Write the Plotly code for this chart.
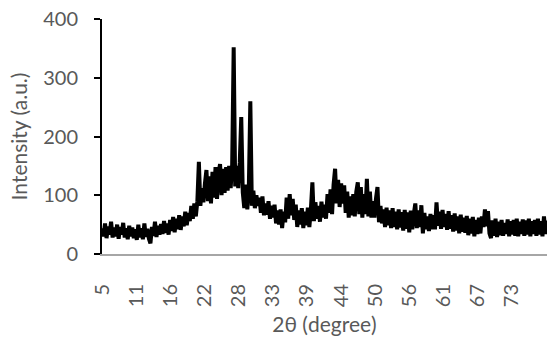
import plotly.graph_objects as go

# 2θ scan: 5.00° to 78.50° in 0.25° steps
scan_start = 5.0
scan_step = 0.25

intensity = [
    # 5.00 - 9.75
    44, 30, 52, 27, 47, 33, 55, 28, 45, 30, 50, 26, 46, 33, 53, 28, 44, 25, 48, 30,
    # 10.00 - 14.75
    45, 27, 42, 24, 50, 28, 44, 25, 52, 29, 43, 26, 18, 46, 31, 55, 29, 48, 33, 51,
    # 15.00 - 19.75
    34, 56, 36, 52, 33, 58, 39, 63, 37, 60, 42, 66, 41, 64, 47, 72, 49, 70, 56, 82,
    # 20.00 - 24.75
    60, 86, 64, 90, 157, 82, 112, 88, 120, 143, 90, 132, 86, 140, 96, 148, 94, 138, 153, 100,
    # 25.00 - 29.75
    145, 104, 148, 108, 150, 112, 152, 352, 115, 150, 112, 155, 233, 105, 78, 118, 76, 112, 260, 82,
    # 30.00 - 34.75
    108, 78, 100, 82, 96, 70, 98, 66, 86, 67, 90, 60, 82, 62, 84, 52, 74, 50, 76, 44,
    # 35.00 - 39.75
    72, 54, 96, 60, 102, 66, 94, 58, 84, 46, 74, 50, 78, 44, 72, 49, 79, 46, 76, 122,
    # 40.00 - 44.75
    56, 88, 60, 82, 55, 89, 62, 84, 60, 102, 70, 110, 68, 118, 145, 86, 126, 80, 120, 86,
    # 45.00 - 49.75
    117, 70, 106, 62, 98, 66, 102, 64, 106, 122, 68, 114, 62, 102, 68, 128, 64, 106, 62, 90,
    # 50.00 - 54.75
    62, 94, 114, 54, 82, 52, 76, 46, 79, 49, 74, 44, 78, 46, 72, 42, 76, 45, 71, 40,
    # 55.00 - 59.75
    75, 43, 71, 37, 74, 42, 68, 86, 44, 74, 46, 83, 35, 70, 42, 64, 39, 68, 42, 66,
    # 60.00 - 64.75
    42, 88, 48, 72, 43, 75, 46, 68, 41, 73, 43, 66, 38, 69, 40, 64, 35, 67, 38, 62,
    # 65.00 - 69.75
    36, 65, 32, 60, 35, 63, 30, 58, 34, 62, 35, 64, 46, 76, 47, 73, 35, 27, 57, 31,
    # 70.00 - 74.75
    60, 29, 55, 32, 58, 31, 53, 34, 59, 30, 56, 33, 58, 31, 60, 30, 55, 34, 59, 31,
    # 75.00 - 78.50
    57, 33, 60, 30, 56, 34, 58, 31, 60, 33, 56, 30, 64, 34, 57,
]

two_theta = [scan_start + scan_step * i for i in range(len(intensity))]

x_tick_vals = [5, 10.64, 16.28, 21.92, 27.56, 33.2, 38.84, 44.48, 50.12, 55.76, 61.4, 67.04, 72.68]
x_tick_text = ["5", "11", "16", "22", "28", "33", "39", "44", "50", "56", "61", "67", "73"]
y_tick_vals = [0, 100, 200, 300, 400]

FONT = "Lato"
TXT = "#595959"

fig = go.Figure()
fig.add_trace(go.Scatter(
    x=two_theta, y=intensity, mode="lines",
    line=dict(color="#000000", width=4, simplify=False),
    showlegend=False, hoverinfo="skip",
))

fig.update_layout(
    width=547, height=338,
    margin=dict(l=102, r=0, t=19, b=84),
    paper_bgcolor="white", plot_bgcolor="white",
    font=dict(family=FONT, color=TXT, size=20),
    xaxis=dict(
        range=[5, 78.5],
        tickmode="array", tickvals=x_tick_vals, ticktext=x_tick_text,
        tickangle=-90, ticks="", showgrid=False, zeroline=False,
        showline=True, linecolor="#a6a6a6", linewidth=2,
        tickfont=dict(family=FONT, size=20, color=TXT),
        ticklabelstandoff=20,
        title=dict(text="2θ (degree)", font=dict(family=FONT, size=21, color=TXT), standoff=11),
    ),
    yaxis=dict(
        range=[0, 400],
        tickmode="array", tickvals=y_tick_vals,
        ticks="outside", ticklen=6, tickwidth=2, tickcolor="#000000",
        showgrid=False, zeroline=False,
        showline=True, linecolor="#000000", linewidth=2,
        tickfont=dict(family=FONT, size=20, color=TXT),
        ticklabelstandoff=12,
        title=dict(text="Intensity (a.u.)", font=dict(family=FONT, size=21, color=TXT), standoff=10),
    ),
)

fig.write_html("out.html")
